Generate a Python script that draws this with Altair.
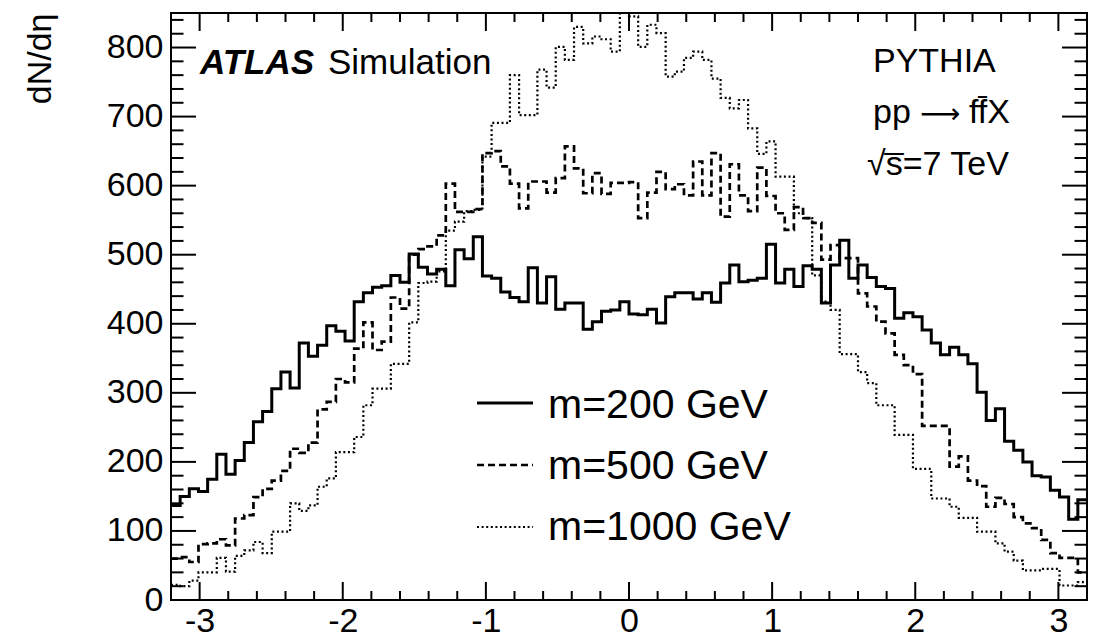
import altair as alt
import numpy as np
import pandas as pd

# ---- axis ranges / binning ----
X_MIN, X_MAX = -3.2, 3.2
Y_MAX = 850
N_BINS = 100

SERIES_LABELS = ["m=200 GeV", "m=500 GeV", "m=1000 GeV"]

# bin contents (100 bins from -3.2 to 3.2)
M200 = [137, 150, 161, 157, 175, 211, 182, 202, 228, 258,
        273, 306, 330, 307, 372, 353, 369, 397, 389, 375,
        432, 445, 453, 455, 470, 460, 501, 482, 472, 479,
        455, 507, 494, 526, 469, 466, 446, 438, 432, 481,
        430, 468, 421, 430, 430, 392, 403, 418, 420, 432,
        414, 413, 421, 401, 439, 445, 445, 436, 445, 431,
        459, 485, 461, 463, 466, 515, 459, 479, 454, 484,
        479, 430, 485, 521, 466, 485, 467, 454, 451, 408,
        416, 410, 391, 372, 355, 366, 355, 342, 301, 260,
        277, 230, 217, 200, 180, 178, 159, 149, 117, 145]

M500 = [60, 62, 55, 81, 82, 88, 79, 118, 123, 149,
        161, 173, 187, 219, 213, 228, 276, 287, 320, 315,
        364, 402, 362, 374, 438, 422, 500, 508, 512, 528,
        603, 562, 562, 566, 647, 650, 628, 603, 567, 606,
        606, 590, 611, 657, 625, 589, 618, 588, 604, 604,
        605, 553, 590, 620, 595, 602, 586, 635, 586, 647,
        555, 631, 586, 563, 626, 585, 560, 536, 569, 553,
        546, 493, 514, 495, 495, 444, 425, 403, 386, 355,
        340, 327, 252, 252, 252, 193, 208, 173, 165, 135,
        148, 139, 120, 111, 104, 87, 68, 61, 61, 40]

M1000 = [22, 20, 28, 40, 40, 61, 41, 64, 72, 84,
         68, 99, 99, 140, 129, 137, 164, 176, 214, 214,
         236, 282, 306, 306, 342, 342, 402, 459, 461, 476,
         535, 548, 563, 565, 642, 691, 691, 760, 702, 702,
         768, 742, 801, 782, 830, 806, 816, 812, 794, 850,
         845, 801, 833, 821, 758, 765, 785, 794, 782, 755,
         727, 712, 724, 683, 646, 664, 613, 613, 560, 553,
         470, 432, 420, 356, 356, 330, 314, 282, 282, 239,
         239, 190, 190, 147, 147, 135, 119, 119, 99, 99,
         82, 70, 57, 43, 43, 45, 45, 21, 21, 26]

X_MAJOR = [-3, -2, -1, 0, 1, 2, 3]
X_MINOR = [-2.8, -2.6, -2.4, -2.2, -1.8, -1.6, -1.4, -1.2, -0.8, -0.6, -0.4, -0.2,
           0.2, 0.4, 0.6, 0.8, 1.2, 1.4, 1.6, 1.8, 2.2, 2.4, 2.6, 2.8]
Y_MAJOR = [0, 100, 200, 300, 400, 500, 600, 700, 800]
Y_MINOR = [v for v in range(20, 850, 20) if v % 100 != 0]

W, H = 916, 587
FONT = "Liberation Sans"

xs = alt.Scale(domain=[X_MIN, X_MAX], nice=False, zero=False)
ys = alt.Scale(domain=[0, Y_MAX], nice=False, zero=True)

x_axis = alt.Axis(values=X_MAJOR, ticks=False, tickSize=0, domain=False, grid=False,
                  labelFontSize=34, labelFont=FONT, labelColor="black", labelPadding=4,
                  labelFlush=False, labelExpr="datum.value + ''", title=None)
y_axis = alt.Axis(values=Y_MAJOR, ticks=False, tickSize=0, domain=False, grid=False,
                  labelFontSize=34, labelFont=FONT, labelColor="black", labelPadding=8,
                  title="dN/dη", titleFontSize=34, titleFont=FONT, titleFontWeight="normal",
                  titleColor="black", titleAngle=270, titleAlign="right",
                  titleBaseline="alphabetic", titleX=-121, titleY=0)

edges = X_MIN + (X_MAX - X_MIN) / N_BINS * np.arange(N_BINS + 1)


def X(field):
    return alt.X(field, type="quantitative", scale=xs, axis=x_axis)


def Y(field):
    return alt.Y(field, type="quantitative", scale=ys, axis=y_axis)


def hist_layer(values, style):
    df = pd.DataFrame({"eta": edges, "count": list(values) + [values[-1]]})
    return alt.Chart(df).mark_line(interpolate="step-after", color="black", clip=True,
                                   strokeCap="butt", strokeJoin="miter", **style).encode(
        x=X("eta"), y=Y("count"))


STYLES = [
    {"strokeWidth": 3},
    {"strokeWidth": 2.7, "strokeDash": [7, 4]},
    {"strokeWidth": 2.2, "strokeDash": [2, 2.6]},
]

layers = [hist_layer(M200, STYLES[0]),
          hist_layer(M500, STYLES[1]),
          hist_layer(M1000, STYLES[2])]


# ---- inward ticks on all four sides ----
def xticks(vals, length):
    d = pd.DataFrame({"t": vals})
    bot = alt.Chart(d).mark_rule(color="black", strokeWidth=2).encode(
        x=X("t"), y=alt.value(H), y2=alt.value(H - length))
    top = alt.Chart(d).mark_rule(color="black", strokeWidth=2).encode(
        x=X("t"), y=alt.value(0), y2=alt.value(length))
    return [bot, top]


def yticks(vals, length):
    d = pd.DataFrame({"t": vals})
    left = alt.Chart(d).mark_rule(color="black", strokeWidth=2).encode(
        y=Y("t"), x=alt.value(0), x2=alt.value(length))
    right = alt.Chart(d).mark_rule(color="black", strokeWidth=2).encode(
        y=Y("t"), x=alt.value(W), x2=alt.value(W - length))
    return [left, right]


layers += xticks(X_MAJOR, 18) + xticks(X_MINOR, 9)
layers += yticks(Y_MAJOR, 25) + yticks(Y_MINOR, 12.5)

one = pd.DataFrame({"a": [0]})


def label(text, x, y, size=34, align="left", font=FONT, **kw):
    return alt.Chart(one).mark_text(text=text, align=align, baseline="alphabetic",
                                    fontSize=size, font=font, color="black", **kw).encode(
        x=alt.value(x), y=alt.value(y))


layers += [
    label("ATLAS", 29, 61, 35, fontWeight="bold", fontStyle="italic"),
    label("Simulation", 157, 61, 35),
    label("PYTHIA", 702, 59, 34),
    label("pp", 702, 110, 34),
    label("\u27F6", 769, 110, 28, align="center", font="DejaVu Sans"),
    label("ff\u0304X", 798, 110, 34),
    label("\u221As\u0305=7 TeV", 696, 162, 34),
]

# ---- legend ----
LEG_LINE_Y = [390, 452, 514]
LEG_TEXT_Y = [405, 466, 527]
for i, lab in enumerate(SERIES_LABELS):
    st = dict(STYLES[i])
    layers.append(alt.Chart(one).mark_rule(color="black", strokeCap="butt", **st).encode(
        x=alt.value(306), x2=alt.value(362), y=alt.value(LEG_LINE_Y[i])))
    layers.append(label(lab, 377, LEG_TEXT_Y[i], 41))

chart = alt.layer(*layers).properties(
    width=W, height=H,
    autosize=alt.AutoSizeParams(type="none"),
    padding={"left": 171, "top": 13, "right": 23, "bottom": 37},
    background="white",
).configure_view(stroke="black", strokeWidth=2)

chart.save("out.html", embed_options={"renderer": "svg", "actions": False})
